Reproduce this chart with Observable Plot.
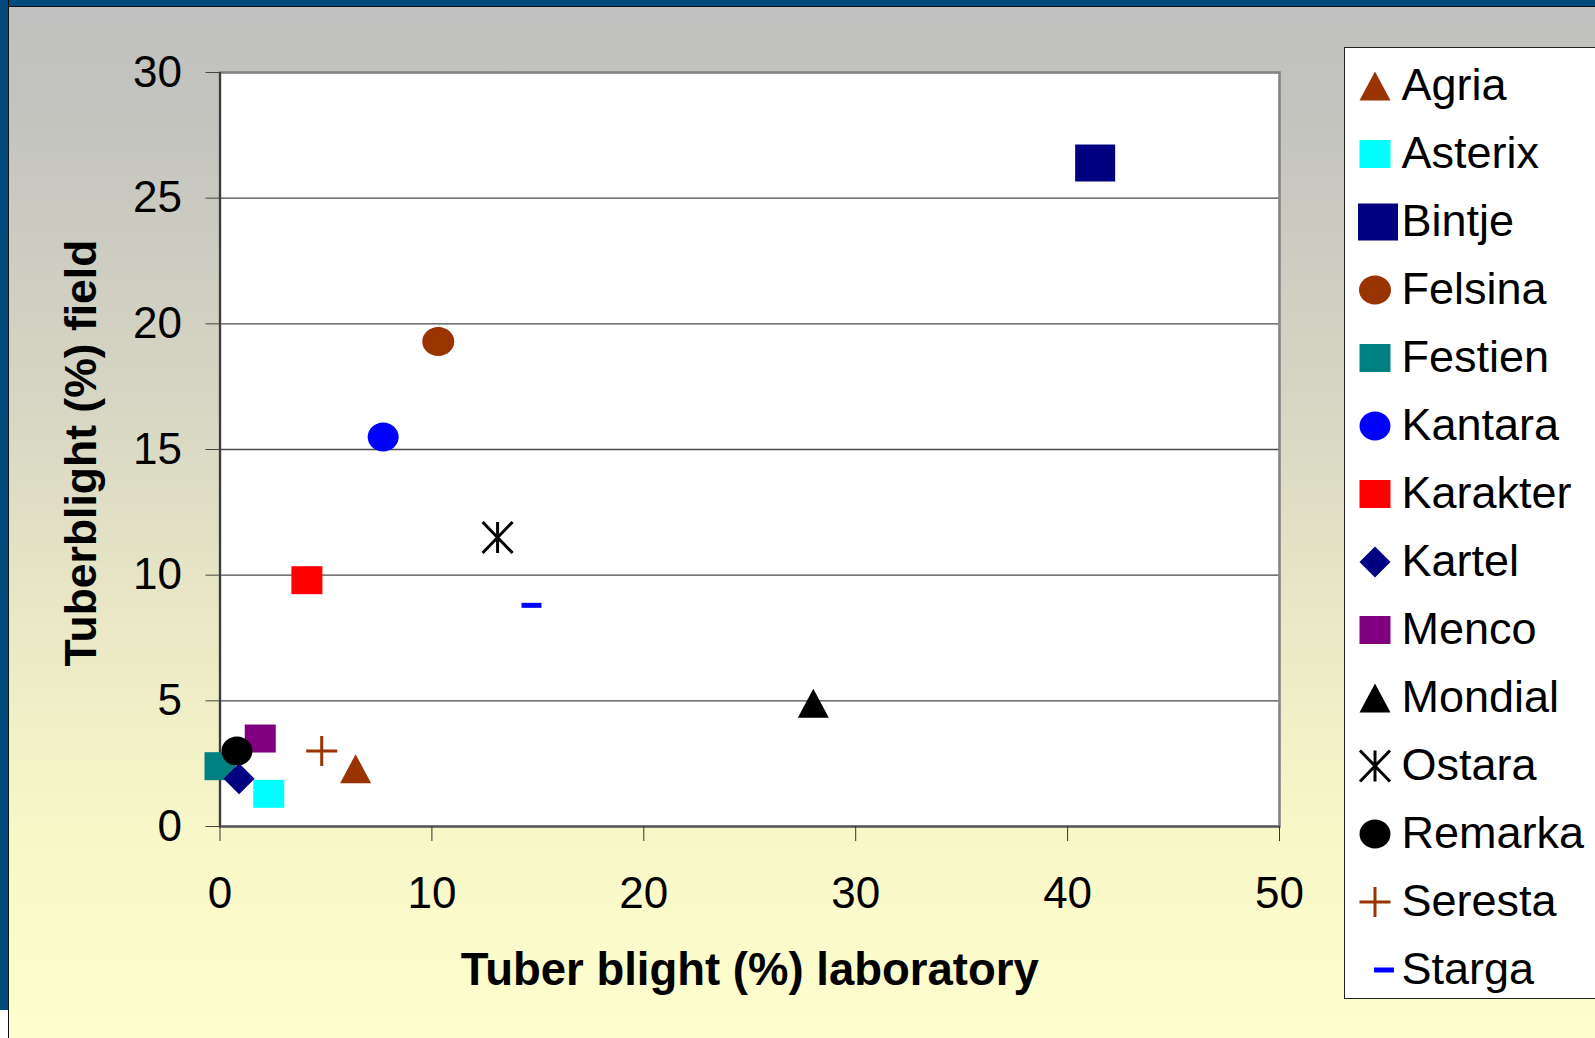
<!DOCTYPE html>
<html>
<head>
<meta charset="utf-8">
<script src="https://cdn.jsdelivr.net/npm/d3@7"></script>
<script src="https://cdn.jsdelivr.net/npm/@observablehq/plot@0.6"></script>
<style>
  html, body { margin: 0; padding: 0; background: #fff; }
  #page {
    position: relative; width: 1595px; height: 1038px; overflow: hidden;
    background: linear-gradient(to bottom, #c0c0c0 0%, #c3c3bf 10%, #d8d7c4 40%, #eceac6 62%, #f8f7c8 80%, #fefdcd 100%);
    font-family: Arial, "Liberation Sans", sans-serif; color: #000;
  }
  #blueTop { position: absolute; left: 0; top: 0; width: 1595px; height: 6px; background: #034a7c; border-bottom: 1px solid #111; }
  #blueLeft { position: absolute; left: 0; top: 0; width: 8px; height: 1010px; background: #034a7c; border-right: 1.5px solid #111; }
  #whiteLeft { position: absolute; left: 0; top: 1010px; width: 8px; height: 28px; background: #fff; border-right: 1.5px solid #111; }
  #chart { position: absolute; left: 0; top: 0; }
  #legend { position: absolute; left: 1344px; top: 47px; width: 300px; height: 952px; background: #fff; border: 1.5px solid #222; box-sizing: border-box; }
  .lg-text { position: absolute; font-size: 45px; line-height: 45px; white-space: nowrap; font-family: Arial, "Liberation Sans", sans-serif; }
  .lg-mark { position: absolute; overflow: visible; }
</style>
</head>
<body>
<div id="page">
  <div id="blueTop"></div>
  <div id="blueLeft"></div>
  <div id="whiteLeft"></div>
  <div id="chart"></div>
  <div id="legend"></div>
</div>
<script>
// ---- Data ----
const varieties = ["Agria", "Asterix", "Bintje", "Felsina", "Festien", "Kantara", "Karakter",
                   "Kartel", "Menco", "Mondial", "Ostara", "Remarka", "Seresta", "Starga"];
const labBlight =   [6.4, 2.3, 41.3, 10.3, 0.0, 7.7, 4.1, 0.9, 1.9, 28.0, 13.1, 0.8, 4.8, 14.7];
const fieldBlight = [2.3, 1.3, 26.4, 19.3, 2.4, 15.5, 9.8, 1.9, 3.5, 4.9, 11.5, 3.0, 3.0, 8.8];
const xTicks = [0, 10, 20, 30, 40, 50];
const yTicks = [0, 5, 10, 15, 20, 25, 30];
const xTitle = "Tuber blight (%) laboratory";
const yTitle = "Tuberblight (%) field";

// ---- Styles (kept separate from data) ----
const markerStyle = {
  Agria:    {kind: "triangle", w: 31, h: 29, color: "#993300"},
  Asterix:  {kind: "square",   w: 31, h: 28, color: "#00ffff"},
  Bintje:   {kind: "square",   w: 40, h: 37, color: "#000080"},
  Felsina:  {kind: "ellipse",  w: 32, h: 29, color: "#993300"},
  Festien:  {kind: "square",   w: 31, h: 28, color: "#008080"},
  Kantara:  {kind: "ellipse",  w: 31, h: 29, color: "#0000ff"},
  Karakter: {kind: "square",   w: 31, h: 28, color: "#ff0000"},
  Kartel:   {kind: "diamond",  w: 31, h: 31, color: "#000080"},
  Menco:    {kind: "square",   w: 31, h: 28, color: "#800080"},
  Mondial:  {kind: "triangle", w: 31, h: 29, color: "#000000"},
  Ostara:   {kind: "asterisk", w: 30, h: 31, color: "#000000"},
  Remarka:  {kind: "ellipse",  w: 31, h: 29, color: "#000000"},
  Seresta:  {kind: "plus",     w: 31, h: 30, color: "#993300"},
  Starga:   {kind: "dash",     w: 20, h: 5,  color: "#0000ff"}
};
const lineKinds = new Set(["plus", "asterisk"]);
const legendShift = {Bintje: 3, Starga: 9};

function makeSymbol(kind, w, h) {
  return {
    draw(ctx) {
      const a = w / 2, b = h / 2, k = 0.5523;
      switch (kind) {
        case "square": case "dash": ctx.rect(-a, -b, w, h); break;
        case "triangle": ctx.moveTo(0, -b); ctx.lineTo(a, b); ctx.lineTo(-a, b); ctx.closePath(); break;
        case "diamond": ctx.moveTo(0, -b); ctx.lineTo(a, 0); ctx.lineTo(0, b); ctx.lineTo(-a, 0); ctx.closePath(); break;
        case "ellipse":
          ctx.moveTo(a, 0);
          ctx.bezierCurveTo(a, k * b, k * a, b, 0, b);
          ctx.bezierCurveTo(-k * a, b, -a, k * b, -a, 0);
          ctx.bezierCurveTo(-a, -k * b, -k * a, -b, 0, -b);
          ctx.bezierCurveTo(k * a, -b, a, -k * b, a, 0);
          ctx.closePath(); break;
        case "plus": ctx.moveTo(-a, 0); ctx.lineTo(a, 0); ctx.moveTo(0, -b); ctx.lineTo(0, b); break;
        case "asterisk":
          ctx.moveTo(0, -b); ctx.lineTo(0, b);
          ctx.moveTo(-a, -b); ctx.lineTo(a, b);
          ctx.moveTo(a, -b); ctx.lineTo(-a, b); break;
      }
    }
  };
}

const rows = varieties.map((name, i) => ({name, lab: labBlight[i], field: fieldBlight[i]}));

const dotMarks = varieties.map(name => {
  const s = markerStyle[name];
  const sym = makeSymbol(s.kind, s.w, s.h);
  const isLine = lineKinds.has(s.kind);
  return Plot.dot(rows.filter(d => d.name === name), {
    x: "lab", y: "field", symbol: sym, r: 15,
    fill: isLine ? "none" : s.color,
    stroke: isLine ? s.color : "none",
    strokeWidth: isLine ? 3 : 0
  });
});

const FONT = 'Arial, "Liberation Sans", sans-serif';

const chart = Plot.plot({
  width: 1595, height: 1038,
  marginLeft: 219.5, marginRight: 316, marginTop: 72, marginBottom: 212,
  style: {background: "transparent", fontFamily: FONT, color: "#000", overflow: "visible"},
  x: {domain: [0, 50]},
  y: {domain: [0, 30]},
  marks: [
    Plot.frame({fill: "white", stroke: "none"}),
    Plot.gridY(yTicks.filter(t => t > 0 && t < 30), {stroke: "#4a4a4a", strokeOpacity: 1, strokeWidth: 1.3}),
    Plot.frame({stroke: "#858585", strokeWidth: 2.6, fill: "none"}),
    Plot.ruleY([0], {stroke: "#555", strokeWidth: 2}),
    Plot.ruleX([0], {stroke: "#222", strokeWidth: 1.5}),
    Plot.axisY({ticks: yTicks, tickSize: 14, tickPadding: 24, fontSize: 44, stroke: "#444",
                tickFormat: d => String(d), label: yTitle, labelAnchor: "center", labelOffset: 156, labelArrow: false}),
    Plot.axisX({ticks: xTicks, tickSize: 15, tickPadding: 35, fontSize: 44, stroke: "#333",
                tickFormat: d => String(d), label: xTitle, labelAnchor: "center", labelOffset: 158, labelArrow: false}),
    ...dotMarks
  ]
});
chart.querySelectorAll('g[aria-label$="axis label"]').forEach(g => {
  g.setAttribute("font-weight", "bold");
});
const xl = chart.querySelector('g[aria-label="x-axis label"]');
if (xl) xl.setAttribute("font-size", 45.5);
const yl = chart.querySelector('g[aria-label="y-axis label"]');
if (yl) {
  yl.setAttribute("font-size", 44.5);
  const prev = yl.getAttribute("transform") || "";
  yl.setAttribute("transform", ("translate(0,3.5) " + prev).trim());
}
document.getElementById("chart").appendChild(chart);

// ---- Legend (HTML) ----
const page = document.getElementById("page");
varieties.forEach((name, i) => {
  const s = markerStyle[name];
  const capCenter = 84 + i * 68.0;
  const t = document.createElement("div");
  t.className = "lg-text";
  t.textContent = name;
  t.style.left = "1401.5px";
  t.style.top = (capCenter - 22) + "px";
  page.appendChild(t);

  const isLine = lineKinds.has(s.kind);
  const dx = legendShift[name] || 0;
  const cx = 1375 + dx, cy = capCenter + 2;
  const svg = d3.create("svg").attr("class", "lg-mark")
    .attr("width", 50).attr("height", 50)
    .style("left", (cx - 25) + "px").style("top", (cy - 25) + "px");
  svg.append("path")
    .attr("transform", "translate(25,25)")
    .attr("d", d3.symbol(makeSymbol(s.kind, s.w, s.h))())
    .attr("fill", isLine ? "none" : s.color)
    .attr("stroke", isLine ? s.color : "none")
    .attr("stroke-width", isLine ? 3 : 0);
  page.appendChild(svg.node());
});
</script>
</body>
</html>
